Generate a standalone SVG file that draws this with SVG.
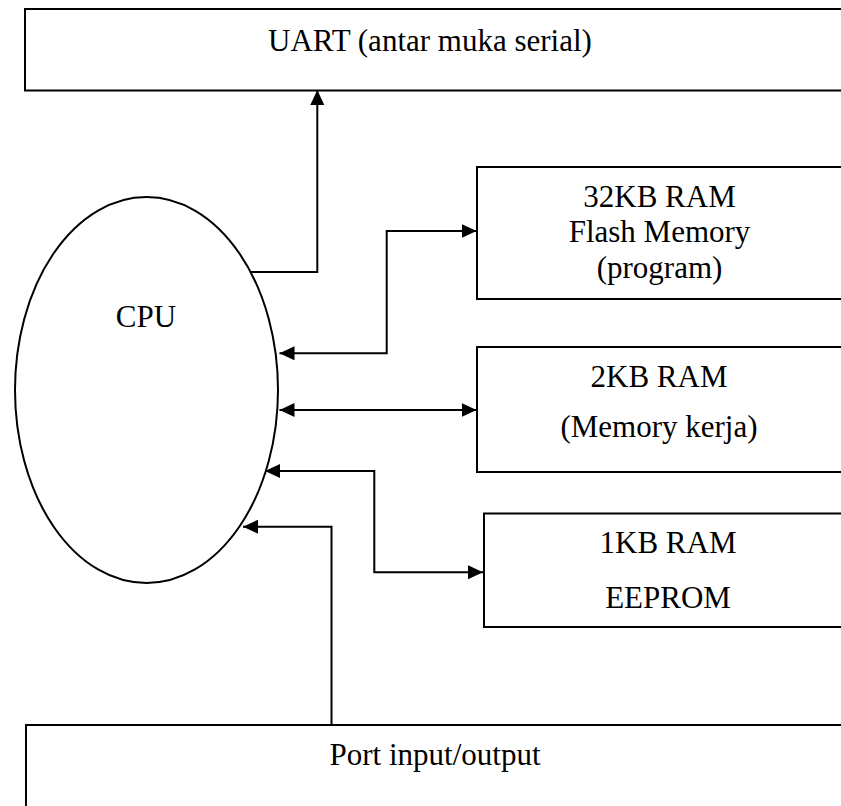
<svg xmlns="http://www.w3.org/2000/svg" width="841" height="806" viewBox="0 0 841 806">
<defs>
<style>
.box{fill:#fff;stroke:#000;stroke-width:2}
.lbl{font-family:"Liberation Serif","Times New Roman",serif;font-size:31px;fill:#000;text-anchor:middle}
.con{fill:none;stroke:#000;stroke-width:2}
</style>
<marker id="ah" markerUnits="userSpaceOnUse" markerWidth="16" markerHeight="15" refX="15" refY="7" orient="auto-start-reverse">
<path d="M0,0 L15,7 L0,14 z" fill="#000"/>
</marker>
</defs>
<rect width="841" height="806" fill="#fff"/>
<g id="uart">
<rect class="box" x="25" y="9" width="830" height="81.5"/>
<text class="lbl" x="430" y="51">UART (antar muka serial)</text>
</g>
<g id="cpu">
<ellipse cx="146.5" cy="390" rx="131.5" ry="193" fill="#fff" stroke="#000" stroke-width="2"/>
<text class="lbl" x="146" y="327">CPU</text>
</g>
<g id="flash">
<rect class="box" x="477" y="167" width="380" height="132"/>
<text class="lbl" x="659.5" y="207">32KB RAM</text>
<text class="lbl" x="659.5" y="242">Flash Memory</text>
<text class="lbl" x="659.5" y="278">(program)</text>
</g>
<g id="sram">
<rect class="box" x="477" y="347" width="380" height="125"/>
<text class="lbl" x="659" y="387">2KB RAM</text>
<text class="lbl" x="659" y="436.5">(Memory kerja)</text>
</g>
<g id="eeprom">
<rect class="box" x="484" y="513.5" width="380" height="113.5"/>
<text class="lbl" x="668" y="553">1KB RAM</text>
<text class="lbl" x="668" y="608">EEPROM</text>
</g>
<g id="port">
<rect class="box" x="26" y="725" width="830" height="100"/>
<text class="lbl" x="435" y="765">Port input/output</text>
</g>
<g id="connectors">
<path class="con" d="M251,272 H317.3 V90" marker-end="url(#ah)"/>
<path class="con" d="M279.5,353.3 H386.7 V231 H476.5" marker-start="url(#ah)" marker-end="url(#ah)"/>
<path class="con" d="M279.5,410 H476.5" marker-start="url(#ah)" marker-end="url(#ah)"/>
<path class="con" d="M265,471 H374.3 V572.3 H483" marker-start="url(#ah)" marker-end="url(#ah)"/>
<path class="con" d="M331.5,725 V526.7 H243" marker-end="url(#ah)"/>
</g>
</svg>
